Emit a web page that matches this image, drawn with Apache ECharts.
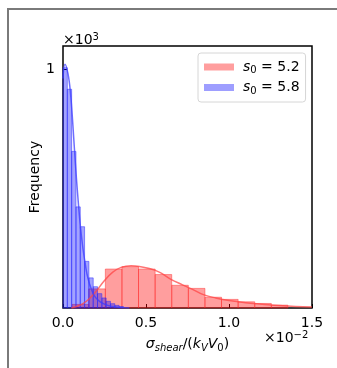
<!DOCTYPE html>
<html>
<head>
<meta charset="utf-8">
<script src="https://cdn.jsdelivr.net/npm/echarts@6/dist/echarts.min.js"></script>
<style>
  html, body { margin: 0; padding: 0; background: #fff; }
  #chart { width: 337px; height: 368px; }
</style>
</head>
<body>
<div id="chart"></div>
<script>
// x in units of 1e-2, y in units of 1e3
const FONT = "DejaVu Sans"

// s0 = 5.2 histogram (bin edges and counts)
const redEdges = [0.055, 0.155, 0.255, 0.355, 0.455, 0.555, 0.655, 0.755, 0.855, 0.955, 1.055, 1.155, 1.255, 1.355]
const redCounts = [0.015, 0.08, 0.163, 0.173, 0.163, 0.14, 0.095, 0.082, 0.045, 0.036, 0.026, 0.019, 0.012]

// s0 = 5.8 histogram
const blueEdges = [0, 0.026, 0.052, 0.078, 0.104, 0.13, 0.156, 0.182, 0.208, 0.234, 0.26, 0.286, 0.312, 0.338, 0.364]
const blueCounts = [1.005, 0.915, 0.655, 0.423, 0.34, 0.195, 0.126, 0.089, 0.06, 0.042, 0.028, 0.018, 0.011, 0.006]

// density curves
const redKdeX = [0.05, 0.08, 0.12, 0.16, 0.2, 0.25, 0.3, 0.35, 0.41, 0.46, 0.52, 0.58, 0.65, 0.72, 0.78, 0.85, 0.92, 1.0, 1.1, 1.2, 1.3, 1.4, 1.5]
const redKdeY = [0.0, 0.006, 0.018, 0.04, 0.07, 0.115, 0.15, 0.17, 0.177, 0.174, 0.165, 0.15, 0.12, 0.097, 0.078, 0.055, 0.042, 0.031, 0.022, 0.016, 0.01, 0.006, 0.004]
const blueKdeX = [0, 0.012, 0.03, 0.045, 0.06, 0.075, 0.09, 0.105, 0.12, 0.135, 0.15, 0.17, 0.19, 0.22, 0.26, 0.3, 0.35, 0.4]
const blueKdeY = [0.96, 1.02, 0.98, 0.9, 0.76, 0.6, 0.46, 0.34, 0.25, 0.18, 0.125, 0.08, 0.05, 0.028, 0.013, 0.006, 0.002, 0]

const xTicks = [0, 0.5, 1.0, 1.5]
const yTicks = [1]

const seriesNames = ["5.2", "5.8"]

function histData(edges, counts) {
  return counts.map((c, i) => [edges[i], edges[i + 1], c])
}

function zip(xs, ys) {
  return xs.map((x, i) => [x, ys[i]])
}

function histSeries(name, edges, counts, fill, stroke) {
  return {
    name: name,
    type: "custom",
    data: histData(edges, counts),
    encode: { x: [0, 1], y: 2 },
    itemStyle: { color: fill, borderColor: stroke },
    renderItem: (params, api) => {
      const p0 = api.coord([api.value(0), api.value(2)])
      const p1 = api.coord([api.value(1), 0])
      return {
        type: "rect",
        shape: { x: p0[0], y: p0[1], width: p1[0] - p0[0], height: p1[1] - p0[1] },
        style: { fill: fill, stroke: stroke, lineWidth: 1 }
      }
    }
  }
}

const chart = echarts.init(document.getElementById("chart"))

chart.setOption({
  animation: false,
  textStyle: { fontFamily: FONT },
  grid: {
    left: 63,
    right: 25,
    top: 46,
    bottom: 60,
    show: true,
    borderColor: "#000",
    borderWidth: 1.5,
    backgroundColor: "transparent"
  },
  legend: {
    orient: "vertical",
    left: 198,
    top: 53,
    padding: [7, 6, 6, 6],
    itemGap: 5,
    itemWidth: 30,
    itemHeight: 7,
    borderColor: "#d6d6d6",
    borderWidth: 1,
    borderRadius: 3,
    backgroundColor: "rgba(255,255,255,0.8)",
    data: [
      { name: seriesNames[0], icon: "rect", itemStyle: { color: "rgba(255,0,0,0.38)", borderWidth: 0 } },
      { name: seriesNames[1], icon: "rect", itemStyle: { color: "rgba(0,0,255,0.38)", borderWidth: 0 } }
    ],
    formatter: (name) => `{i|s}{s|0}{n| = ${name}}`,
    textStyle: {
      padding: [0, 0, 0, 4],
      rich: {
        i: { fontFamily: FONT, fontSize: 14, fontStyle: "italic", color: "#000" },
        s: { fontFamily: FONT, fontSize: 10, color: "#000", padding: [7, 0, 0, 0] },
        n: { fontFamily: FONT, fontSize: 14, color: "#000" }
      }
    }
  },
  xAxis: {
    type: "value",
    min: 0,
    max: 1.5,
    name: "{g|σ}{s|shear}{n|/(}{g|k}{s|V}{g|V}{r|0}{n|)}",
    nameLocation: "middle",
    nameGap: 28,
    nameMoveOverlap: false,
    nameTextStyle: {
      rich: {
        g: { fontFamily: FONT, fontSize: 14, fontStyle: "italic", color: "#000" },
        s: { fontFamily: FONT, fontSize: 10, fontStyle: "italic", color: "#000", padding: [7, 0, 0, 0] },
        r: { fontFamily: FONT, fontSize: 10, color: "#000", padding: [7, 0, 0, 0] },
        n: { fontFamily: FONT, fontSize: 14, color: "#000" }
      }
    },
    splitLine: { show: false },
    axisLine: { show: false },
    axisTick: {
      inside: true,
      length: 4,
      customValues: xTicks,
      lineStyle: { color: "#000", width: 1 }
    },
    axisLabel: {
      customValues: xTicks,
      formatter: (v) => v.toFixed(1),
      color: "#000",
      fontSize: 14,
      margin: 8,
      fontFamily: FONT
    }
  },
  yAxis: {
    type: "value",
    min: 0,
    max: 1.096,
    name: "Frequency",
    nameLocation: "middle",
    nameGap: 21,
    nameMoveOverlap: false,
    nameTextStyle: { fontFamily: FONT, fontSize: 14, color: "#000" },
    splitLine: { show: false },
    axisLine: { show: false },
    axisTick: {
      inside: true,
      length: 4,
      customValues: yTicks,
      lineStyle: { color: "#000", width: 1 }
    },
    axisLabel: {
      customValues: yTicks,
      color: "#000",
      fontSize: 14,
      margin: 8,
      fontFamily: FONT
    }
  },
  graphic: [
    {
      type: "polyline",
      shape: { points: [[8, 368], [8, 9], [337, 9]] },
      style: { stroke: "#7a7a7a", lineWidth: 2, fill: null }
    },
    {
      type: "text",
      left: 63,
      top: 32,
      style: {
        text: "{n|×10}{p|3}",
        rich: {
          n: { fontFamily: FONT, fontSize: 14, fill: "#000" },
          p: { fontFamily: FONT, fontSize: 10, fill: "#000", padding: [0, 0, 7, 0] }
        }
      }
    },
    {
      type: "text",
      left: 264,
      top: 330,
      style: {
        text: "{n|×10}{p|−2}",
        rich: {
          n: { fontFamily: FONT, fontSize: 14, fill: "#000" },
          p: { fontFamily: FONT, fontSize: 10, fill: "#000", padding: [0, 0, 7, 0] }
        }
      }
    }
  ],
  series: [
    histSeries(seriesNames[0], redEdges, redCounts, "rgba(255,0,0,0.38)", "rgba(255,40,40,0.45)"),
    histSeries(seriesNames[1], blueEdges, blueCounts, "rgba(0,0,255,0.36)", "rgba(40,40,255,0.5)"),
    {
      name: "kde1",
      type: "line",
      data: zip(redKdeX, redKdeY),
      smooth: 0.4,
      showSymbol: false,
      lineStyle: { color: "rgba(255,70,70,0.75)", width: 1.5 },
      z: 3
    },
    {
      name: "kde2",
      type: "line",
      data: zip(blueKdeX, blueKdeY),
      smooth: 0.4,
      showSymbol: false,
      lineStyle: { color: "rgba(60,60,255,0.75)", width: 1.5 },
      z: 3
    }
  ]
})
</script>
</body>
</html>
